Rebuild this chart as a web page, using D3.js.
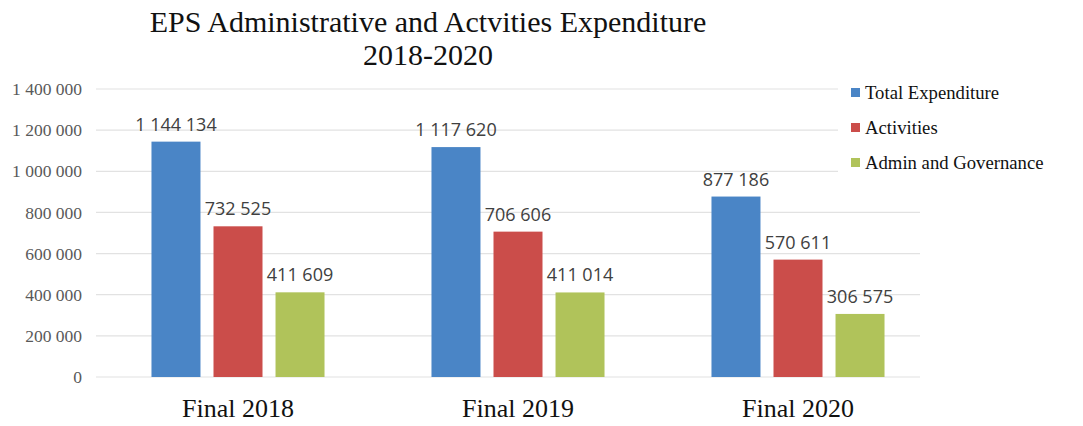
<!DOCTYPE html>
<html><head><meta charset="utf-8">
<script src="https://cdn.jsdelivr.net/npm/d3@7"></script>
<style>body{margin:0;background:#fff}svg{display:block}</style>
</head><body>
<svg id="c" width="1083" height="426"></svg>
<script>
const categories = ["Final 2018", "Final 2019", "Final 2020"];
const seriesNames = ["Total Expenditure", "Activities", "Admin and Governance"];
const totalExpenditure = [1144134, 1117620, 877186];
const activities = [732525, 706606, 570611];
const adminGovernance = [411609, 411014, 306575];
const yTicks = [0, 200000, 400000, 600000, 800000, 1000000, 1200000, 1400000];
const colors = ["#4A85C6", "#CB4D4A", "#B0C35A"];
const titleLines = ["EPS Administrative and Actvities Expenditure", "2018-2020"];

const series = [totalExpenditure, activities, adminGovernance];
const svg = d3.select("#c");
const loc = d3.formatLocale({decimal: ".", thousands: "\u00a0", grouping: [3], currency: ["", ""]});
const fmt = loc.format(",d");
const serif = "'Liberation Serif','Times New Roman',serif";
const sans = "'Open Sans','Noto Sans',sans-serif";

const x0 = d3.scaleBand().domain(categories).range([98, 938]).paddingInner(0.382).paddingOuter(0.191);
const x1 = d3.scaleBand().domain(seriesNames).range([0, x0.bandwidth()]).paddingInner(0.21);
const y = d3.scaleLinear().domain([0, 1400000]).range([377, 89]);

// gridlines
svg.append("g").selectAll("line").data(yTicks).join("line")
  .attr("x1", 96).attr("x2", 920)
  .attr("y1", d => y(d)).attr("y2", d => y(d))
  .attr("stroke", "#E2E2E2").attr("stroke-width", 1.2);

// y axis labels
const yAxis = d3.axisLeft(y).tickValues(yTicks).tickFormat(fmt).tickSize(0).tickPadding(0);
const ga = svg.append("g").attr("transform", "translate(82,0)").call(yAxis);
ga.select(".domain").remove();
ga.selectAll("text").attr("font-family", serif).attr("font-size", 17.5).attr("fill", "#595959");

// legend mask
svg.append("rect").attr("x", 838).attr("y", 75).attr("width", 245).attr("height", 110).attr("fill", "#fff");

// bars
const groups = svg.append("g").selectAll("g").data(categories).join("g")
  .attr("transform", d => `translate(${x0(d)},0)`);
groups.selectAll("rect").data((c, i) => seriesNames.map((s, j) => ({s, v: series[j][i], j})))
  .join("rect")
  .attr("x", d => x1(d.s)).attr("width", x1.bandwidth())
  .attr("y", d => y(d.v)).attr("height", d => y(0) - y(d.v))
  .attr("fill", d => colors[d.j]);
groups.selectAll("text").data((c, i) => seriesNames.map((s, j) => ({s, v: series[j][i], j})))
  .join("text")
  .attr("x", d => x1(d.s) + x1.bandwidth() / 2).attr("y", d => y(d.v) - 11)
  .attr("text-anchor", "middle").attr("font-family", sans).attr("font-size", 18)
  .attr("fill", "#404040").text(d => fmt(d.v));

// x axis labels
const xAxis = d3.axisBottom(x0).tickSize(0).tickPadding(0);
const gx = svg.append("g").attr("transform", "translate(0,417)").call(xAxis);
gx.select(".domain").remove();
gx.selectAll("text").attr("font-family", serif).attr("font-size", 26).attr("fill", "#111").attr("dy", 0);

// title
svg.append("g").selectAll("text").data(titleLines).join("text")
  .attr("x", 428).attr("y", (d, i) => 32 + i * 33)
  .attr("text-anchor", "middle").attr("font-family", serif).attr("font-size", 30)
  .attr("fill", "#111").text(d => d);

// legend
const lg = svg.append("g").selectAll("g").data(seriesNames).join("g")
  .attr("transform", (d, i) => `translate(851,${93 + i * 35})`);
lg.append("rect").attr("x", 0).attr("y", -5).attr("width", 9).attr("height", 9).attr("fill", (d, i) => colors[i]);
lg.append("text").attr("x", 14).attr("y", 6).attr("font-family", serif).attr("font-size", 18.7)
  .attr("fill", "#111").text(d => d);
</script>
</body></html>
